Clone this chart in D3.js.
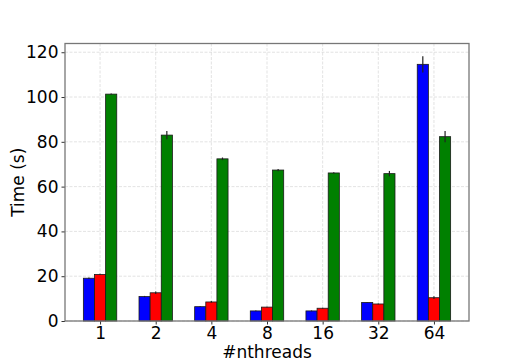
<!DOCTYPE html>
<html>
<head>
<meta charset="utf-8">
<script src="https://cdn.jsdelivr.net/npm/d3@7"></script>
<style>
  body { margin: 0; background: #fff; }
  text { font-family: "DejaVu Sans", sans-serif; }
</style>
</head>
<body>
<svg id="chart" width="521" height="361"></svg>
<script>
// thread counts on the x axis
const threads = ["1", "2", "4", "8", "16", "32", "64"];

// three series (blue, red, green) and their error half-widths
const blueTimes = [19.1, 10.9, 6.4, 4.5, 4.5, 8.3, 114.6];
const blueErr   = [0.3, 0.3, 0.2, 0.2, 0.2, 0.2, 3.6];
const redTimes  = [20.8, 12.6, 8.5, 6.2, 5.7, 7.6, 10.4];
const redErr    = [0.3, 0.6, 0.4, 0.2, 0.2, 0.2, 0.6];
const greenTimes = [101.3, 83.0, 72.4, 67.4, 66.1, 65.8, 82.3];
const greenErr   = [0.3, 1.8, 0.6, 0.5, 0.3, 1.2, 2.5];

const yTicks = [0, 20, 40, 60, 80, 100, 120];

const series = [
    { values: blueTimes, err: blueErr, color: "#0000ff", offset: -1 },
    { values: redTimes, err: redErr, color: "#ff0000", offset: 0 },
    { values: greenTimes, err: greenErr, color: "#008000", offset: 1 }
];

const margin = { left: 65, right: 52, top: 43.5, bottom: 40 };
const W = 521, H = 361;
const barW = 0.2;
const fontSize = 17;

const svg = d3.select("#chart");

const x = d3.scaleLinear()
    .domain([-0.63, 6.63])
    .range([margin.left, W - margin.right]);
const y = d3.scaleLinear()
    .domain([0, 123.9])
    .range([H - margin.bottom, margin.top]);

// grid lines
const grid = svg.append("g").attr("class", "grid");
grid.selectAll(".gy")
    .data(yTicks)
    .enter()
    .append("line")
    .attr("x1", x.range()[0]).attr("x2", x.range()[1])
    .attr("y1", d => y(d)).attr("y2", d => y(d))
    .attr("stroke", "#b0b0b0")
    .attr("stroke-opacity", 0.45)
    .attr("stroke-dasharray", "3,1.5")
    .attr("stroke-width", 0.8);
grid.selectAll(".gx")
    .data(threads)
    .enter()
    .append("line")
    .attr("x1", (d, i) => x(i)).attr("x2", (d, i) => x(i))
    .attr("y1", y.range()[0]).attr("y2", y.range()[1])
    .attr("stroke", "#b0b0b0")
    .attr("stroke-opacity", 0.45)
    .attr("stroke-dasharray", "3,1.5")
    .attr("stroke-width", 0.8);

// bars + error bars
series.forEach(s => {
    const g = svg.append("g");
    g.selectAll("rect")
        .data(s.values)
        .enter()
        .append("rect")
        .attr("x", (d, i) => x(i + s.offset * barW - barW / 2))
        .attr("width", x(barW) - x(0))
        .attr("y", d => y(d))
        .attr("height", d => y(0) - y(d))
        .attr("fill", s.color)
        .attr("stroke", "#1a1a1a")
        .attr("stroke-width", 0.8);
    g.selectAll("line")
        .data(s.values)
        .enter()
        .append("line")
        .attr("x1", (d, i) => x(i + s.offset * barW))
        .attr("x2", (d, i) => x(i + s.offset * barW))
        .attr("y1", (d, i) => y(d - s.err[i]))
        .attr("y2", (d, i) => y(d + s.err[i]))
        .attr("stroke", "#222")
        .attr("stroke-width", 1.2);
});

// axes
const xAxis = d3.axisBottom(x)
    .tickValues(d3.range(threads.length))
    .tickFormat(i => threads[i])
    .tickSize(3.5)
    .tickPadding(2.5);
const yAxis = d3.axisLeft(y)
    .tickValues(yTicks)
    .tickSize(3.5)
    .tickPadding(3);

const gx = svg.append("g")
    .attr("transform", `translate(0,${y(0)})`)
    .call(xAxis);
const gy = svg.append("g")
    .attr("transform", `translate(${x.range()[0]},0)`)
    .call(yAxis);
[gx, gy].forEach(g => {
    g.select(".domain").remove();
    g.selectAll("text").attr("font-size", fontSize).attr("fill", "#000");
    g.selectAll(".tick line").attr("stroke", "#333");
});

// frame
svg.append("rect")
    .attr("x", x.range()[0])
    .attr("y", y.range()[1])
    .attr("width", x.range()[1] - x.range()[0])
    .attr("height", y.range()[0] - y.range()[1])
    .attr("fill", "none")
    .attr("stroke", "#777")
    .attr("stroke-width", 1.3);

// labels
svg.append("text")
    .attr("x", (x.range()[0] + x.range()[1]) / 2)
    .attr("y", 357.5)
    .attr("text-anchor", "middle")
    .attr("font-size", fontSize)
    .text("#nthreads");
svg.append("text")
    .attr("transform", `translate(24,${(y.range()[0] + y.range()[1]) / 2}) rotate(-90)`)
    .attr("text-anchor", "middle")
    .attr("font-size", fontSize)
    .text("Time (s)");
</script>
</body>
</html>
